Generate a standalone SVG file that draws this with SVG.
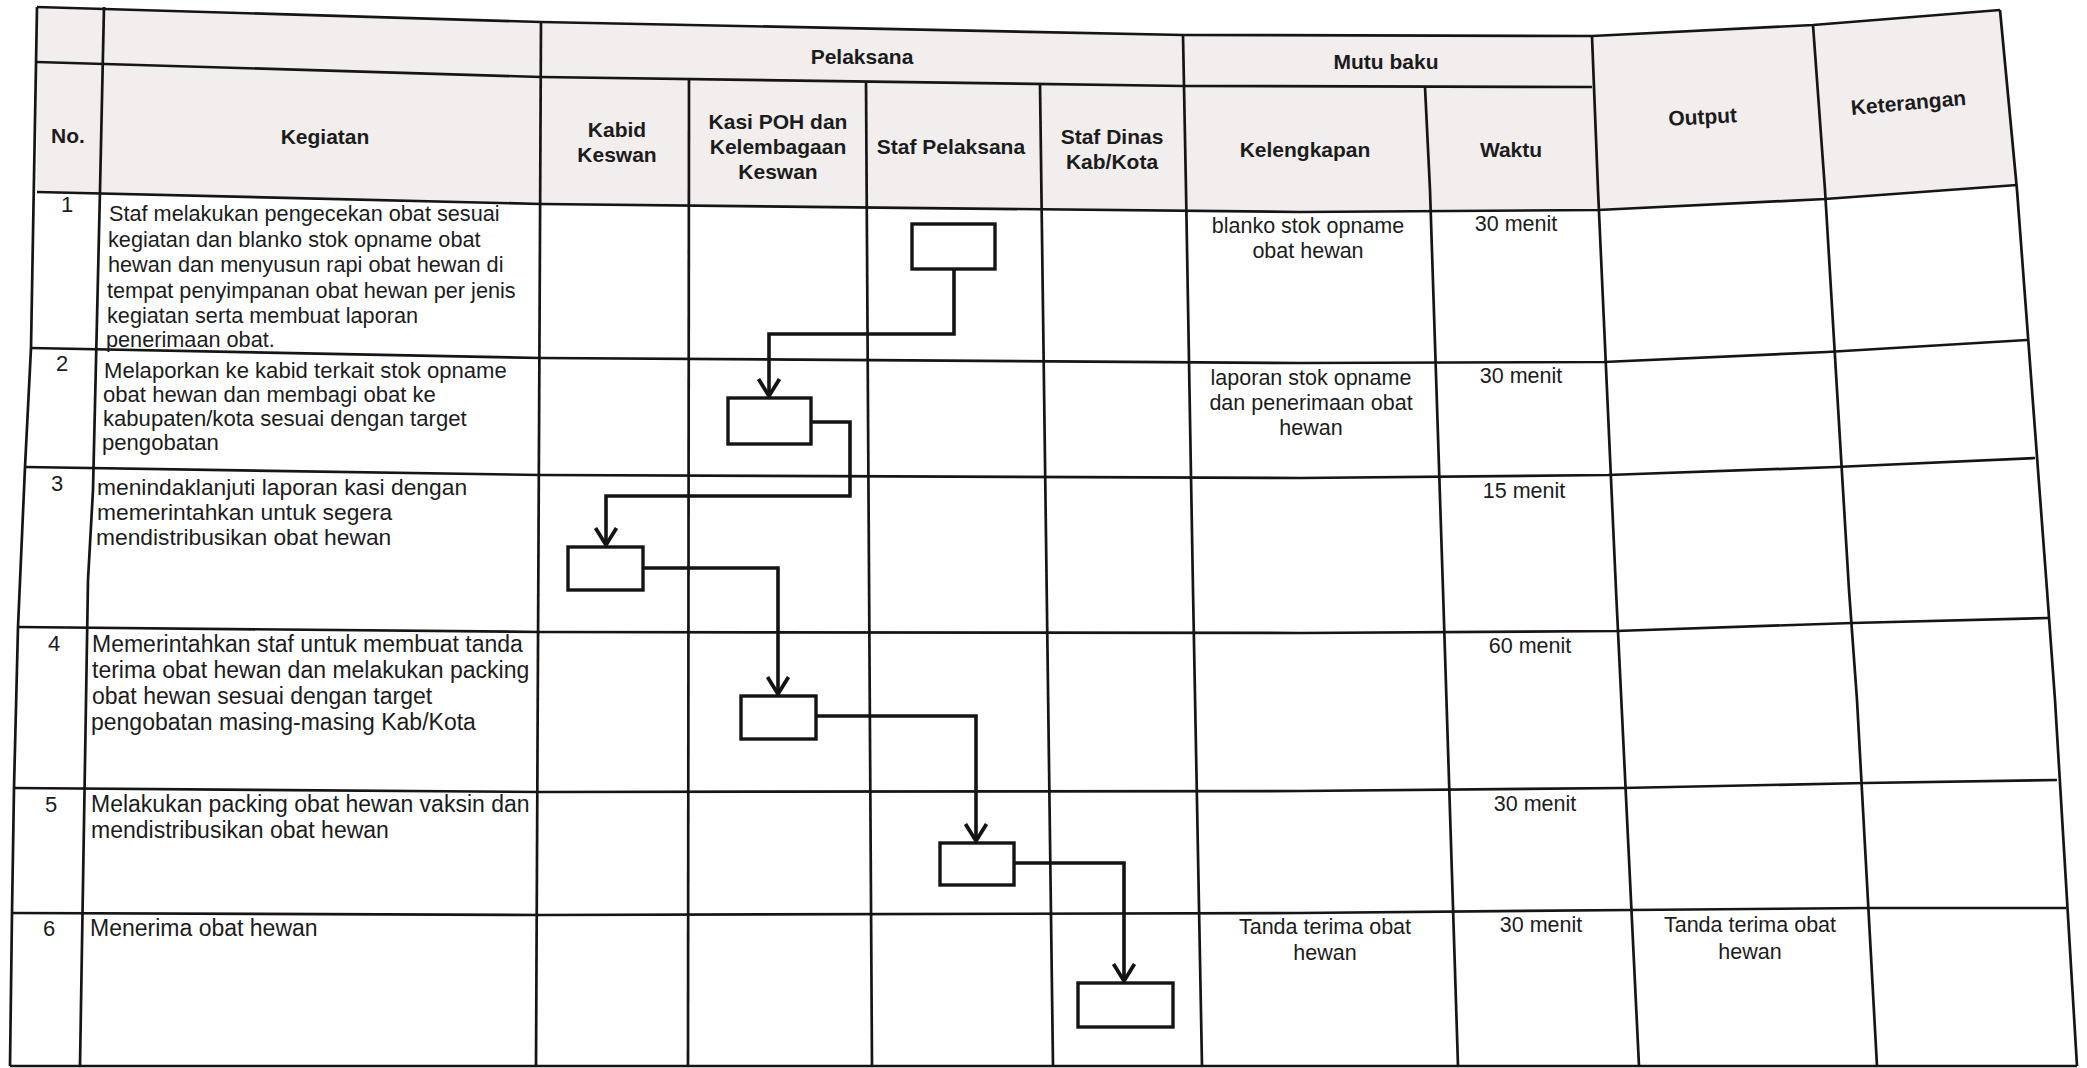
<svg xmlns="http://www.w3.org/2000/svg" width="2087" height="1068" viewBox="0 0 2087 1068">
<defs>
<style>
.grid{fill:none;stroke:#151515;stroke-width:2.7;stroke-linejoin:round}
.hd{font-family:"Liberation Sans",Arial,sans-serif;font-weight:bold;font-size:21px;fill:#1c1c1c;text-anchor:middle}
.tx{font-family:"Liberation Sans",Arial,sans-serif;font-size:23px;fill:#1c1c1c}
.num{font-family:"Liberation Sans",Arial,sans-serif;font-size:22px;fill:#1c1c1c;text-anchor:middle}
.rc{font-family:"Liberation Sans",Arial,sans-serif;font-size:21.5px;fill:#1c1c1c;text-anchor:middle}
.box{fill:#ffffff;stroke:#141414;stroke-width:3.4}
.conn{fill:none;stroke:#141414;stroke-width:3.6;stroke-linejoin:miter}
</style>
<marker id="arr" markerUnits="userSpaceOnUse" viewBox="-22 -14 26 28" refX="0" refY="0" markerWidth="26" markerHeight="28" orient="auto">
<path d="M-17,-10.5 L0,0 L-17,10.5" fill="none" stroke="#141414" stroke-width="3.8"/>
</marker>
</defs>
<rect x="0" y="0" width="2087" height="1068" fill="#ffffff"/>
<polygon points="37,7 541,22 1184,35 1592,36 1813,25 2000,10 2017,185 1825,199 1598,210 1300,212 541,204 37,192" fill="#f2eeee"/>

<g id="grid">
<polyline class="grid" points="37,7 541,22 1184,35 1592,36 1813,25 2000,10"/>
<polyline class="grid" points="37,62 541,77 1184,86 1592,87"/>
<polyline class="grid" points="37,192 541,204 1300,212 1598,210 1825,199 2017,185"/>
<polyline class="grid" points="31,348 541,358 1300,363 1604,362 1827,352 2027,340"/>
<polyline class="grid" points="25,467 541,475 1300,478 1608,475 1836,467 2035,458"/>
<polyline class="grid" points="18,627 541,632 1300,633 1616,631 1852,623 2048,618"/>
<polyline class="grid" points="14,788 541,792 1300,791 1622,788 1865,783 2057,780"/>
<polyline class="grid" points="12,913 541,915 1300,913 1630,910 1868,908 2066,908"/>
<polyline class="grid" points="10,1066 2077,1066"/>
<polyline class="grid" points="37,7 31,348 25,467 18,627 14,788 12,913 10,1066"/>
<polyline class="grid" points="104,7 100,190 93,490 88,580 80,1066"/>
<polyline class="grid" points="541,22 536,1066"/>
<polyline class="grid" points="689,79 688,1066"/>
<polyline class="grid" points="866,81 872,1066"/>
<polyline class="grid" points="1040,84 1053,1066"/>
<polyline class="grid" points="1183,35 1186,190 1193,590 1202,1066"/>
<polyline class="grid" points="1425,87 1430,190 1443,590 1458,1066"/>
<polyline class="grid" points="1592,36 1598,190 1616,590 1639,1066"/>
<polyline class="grid" points="1813,25 1825,190 1849,590 1857,700 1877,1066"/>
<polyline class="grid" points="2000,10 2017,190 2047,590 2055,700 2077,1066"/>
</g>

<g id="header">
<text class="hd" x="862" y="64">Pelaksana</text>
<text class="hd" x="1386" y="69">Mutu baku</text>
<text class="hd" x="68" y="143">No.</text>
<text class="hd" x="325" y="144">Kegiatan</text>
<text class="hd" x="617" y="137">Kabid</text>
<text class="hd" x="617" y="162">Keswan</text>
<text class="hd" x="778" y="129">Kasi POH dan</text>
<text class="hd" x="778" y="154">Kelembagaan</text>
<text class="hd" x="778" y="179">Keswan</text>
<text class="hd" x="951" y="154">Staf Pelaksana</text>
<text class="hd" x="1112" y="144">Staf Dinas</text>
<text class="hd" x="1112" y="169">Kab/Kota</text>
<text class="hd" x="1305" y="157">Kelengkapan</text>
<text class="hd" x="1511" y="157">Waktu</text>
<text class="hd" x="1703" y="124" transform="rotate(-3 1703 124)">Output</text>
<text class="hd" x="1909" y="110" transform="rotate(-5 1909 110)">Keterangan</text>
</g>

<g id="row-1">
<text class="num" x="67" y="212">1</text>
<text class="tx" style="font-size:21.7px"><tspan x="109" y="221">Staf melakukan pengecekan obat sesuai</tspan><tspan x="108" y="247">kegiatan dan blanko stok opname obat</tspan><tspan x="108" y="272">hewan dan menyusun rapi obat hewan di</tspan><tspan x="107" y="298">tempat penyimpanan obat hewan per jenis</tspan><tspan x="107" y="323">kegiatan serta membuat laporan</tspan><tspan x="106" y="347">penerimaan obat.</tspan></text>
<text class="rc" x="1308" y="233">blanko stok opname</text>
<text class="rc" x="1308" y="258">obat hewan</text>
<text class="rc" x="1516" y="231">30 menit</text>
</g>

<g id="row-2">
<text class="num" x="62" y="371">2</text>
<text class="tx" style="font-size:22.1px"><tspan x="104" y="378">Melaporkan ke kabid terkait stok opname</tspan><tspan x="103" y="402">obat hewan dan membagi obat ke</tspan><tspan x="103" y="426">kabupaten/kota sesuai dengan target</tspan><tspan x="102" y="450">pengobatan</tspan></text>
<text class="rc" x="1311" y="385">laporan stok opname</text>
<text class="rc" x="1311" y="410">dan penerimaan obat</text>
<text class="rc" x="1311" y="435">hewan</text>
<text class="rc" x="1521" y="383">30 menit</text>
</g>

<g id="row-3">
<text class="num" x="57" y="491">3</text>
<text class="tx" style="font-size:22.8px"><tspan x="97" y="495">menindaklanjuti laporan kasi dengan</tspan><tspan x="97" y="520">memerintahkan untuk segera</tspan><tspan x="96" y="545">mendistribusikan obat hewan</tspan></text>
<text class="rc" x="1524" y="498">15 menit</text>
</g>

<g id="row-4">
<text class="num" x="54" y="651">4</text>
<text class="tx"><tspan x="92" y="652">Memerintahkan staf untuk membuat tanda</tspan><tspan x="92" y="678">terima obat hewan dan melakukan packing</tspan><tspan x="92" y="704">obat hewan sesuai dengan target</tspan><tspan x="91" y="730">pengobatan masing-masing Kab/Kota</tspan></text>
<text class="rc" x="1530" y="653">60 menit</text>
</g>

<g id="row-5">
<text class="num" x="51" y="812">5</text>
<text class="tx"><tspan x="91" y="812">Melakukan packing obat hewan vaksin dan</tspan><tspan x="91" y="838">mendistribusikan obat hewan</tspan></text>
<text class="rc" x="1535" y="811">30 menit</text>
</g>

<g id="row-6">
<text class="num" x="49" y="936">6</text>
<text class="tx" x="90" y="936">Menerima obat hewan</text>
<text class="rc" x="1325" y="934">Tanda terima obat</text>
<text class="rc" x="1325" y="960">hewan</text>
<text class="rc" x="1541" y="932">30 menit</text>
<text class="rc" x="1750" y="932">Tanda terima obat</text>
<text class="rc" x="1750" y="959">hewan</text>
</g>

<g id="node-1"><rect class="box" x="912" y="224" width="83" height="45"/></g>
<g id="node-2"><rect class="box" x="728" y="398" width="83" height="46"/></g>
<g id="node-3"><rect class="box" x="568" y="547" width="75" height="43"/></g>
<g id="node-4"><rect class="box" x="741" y="696" width="75" height="43"/></g>
<g id="node-5"><rect class="box" x="940" y="843" width="74" height="42"/></g>
<g id="node-6"><rect class="box" x="1078" y="983" width="95" height="44"/></g>

<g id="connectors">
<path class="conn" d="M954,269 V334 H769 V396" marker-end="url(#arr)"/>
<path class="conn" d="M811,422 H850 V496 H606 V545" marker-end="url(#arr)"/>
<path class="conn" d="M643,568 H778 V694" marker-end="url(#arr)"/>
<path class="conn" d="M816,716 H976 V841" marker-end="url(#arr)"/>
<path class="conn" d="M1014,863 H1124 V981" marker-end="url(#arr)"/>
</g>
</svg>
